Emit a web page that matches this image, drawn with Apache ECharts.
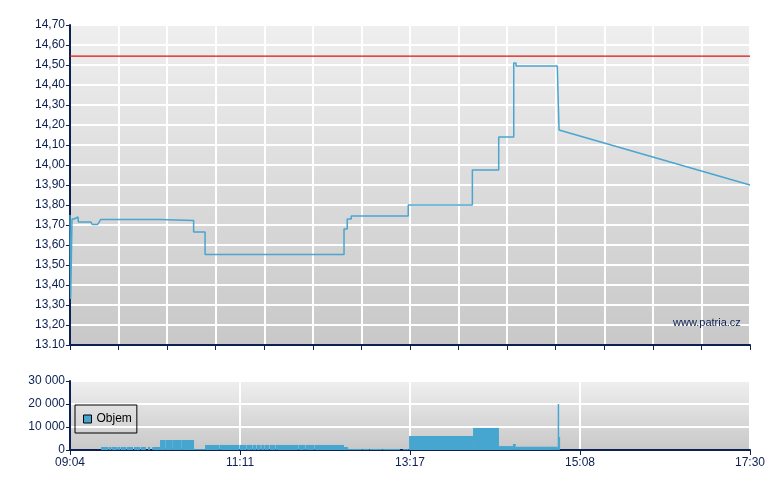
<!DOCTYPE html>
<html>
<head>
<meta charset="utf-8">
<script src="https://cdn.jsdelivr.net/npm/echarts@6/dist/echarts.min.js"></script>
<style>
html,body{margin:0;padding:0;background:#fff;}
#chart{width:780px;height:490px;}
</style>
</head>
<body>
<div id="chart"></div>
<script>
// x values: minutes after session start (09:04); session spans 506 minutes on the axis
const sessionLength = 506;
const timeLabels = ['09:04', '11:11', '13:17', '15:08', '17:30'];
const priceLabels = ['13.10', '13,20', '13,30', '13,40', '13,50', '13,60', '13,70', '13,80',
  '13,90', '14,00', '14,10', '14,20', '14,30', '14,40', '14,50', '14,60', '14,70'];
const volumeLabels = ['0', '10 000', '20 000', '30 000'];
const previousClose = 14.544;

// price path [minute, price]
const priceTimes = [0, 0.5, 1.5, 3.0, 3.0, 6.0, 6.2, 15.6, 16.5, 20.6, 22.8, 67.0, 67.0, 92.0, 92.0, 100.5, 100.5,
  203.9, 203.9, 206.3, 206.3, 209.3, 209.3, 251.7, 251.7, 299.4, 299.4, 319.0, 319.0, 330.2, 330.2,
  331.9, 331.9, 362.6, 363.9, 506];
const priceValues = [13.75, 13.33, 13.73, 13.73, 13.74, 13.74, 13.715, 13.715, 13.703, 13.703, 13.727, 13.727, 13.723, 13.723, 13.665, 13.665, 13.553,
  13.553, 13.68, 13.68, 13.73, 13.73, 13.745, 13.745, 13.80, 13.80, 13.975, 13.975, 14.14, 14.14, 14.51,
  14.51, 14.495, 14.495, 14.175, 13.90];

// volume blocks: start minute, end minute, volume
const volStart = [23.1, 28.8, 31.0, 35.5, 37.7, 42.4, 47.6, 52.6, 58.0, 61.2, 67.0, 70.9, 76.6, 82.8, 92.3,
  100.5, 111.2, 126.1, 131.7, 135.8, 138.8, 142.3, 145.1, 148.7, 152.9, 170.4, 175.2, 182.3,
  203.9, 206.9, 217.6, 222.9, 232.5, 247.8,
  252.3, 299.9, 319.2, 329.6, 331.7, 362.9, 363.9];
const volEnd = [28.5, 30.7, 35.2, 37.4, 41.9, 46.9, 52.1, 56.5, 59.7, 67.0, 70.8, 76.5, 82.7, 92.3, 100.5,
  110.9, 125.8, 131.4, 135.5, 138.4, 141.9, 144.8, 148.3, 152.6, 170.1, 174.9, 182.0, 203.9,
  206.9, 217.3, 222.5, 232.2, 245.6, 252.0,
  299.9, 319.2, 329.6, 331.7, 362.9, 364.0, 364.7];
const volValues = [1300, 1300, 1300, 1300, 1300, 1300, 1300, 1300, 1300, 1300, 4350, 4350, 4350, 4350, 400,
  2200, 2200, 2200, 2200, 2200, 2200, 2200, 2200, 2200, 2200, 2200, 2200, 2200,
  1300, 450, 450, 450, 450, 400,
  6100, 9600, 1700, 2600, 1400, 20000, 5700];

const navy = '#0c2052';
const font = 'Liberation Sans, Arial, sans-serif';
const lineBlue = '#4aa5cf';
const volBlue = '#47a6d0';

const pricePoints = priceTimes.map((t, i) => [t, priceValues[i]]);
const closePoints = [[0, previousClose], [sessionLength, previousClose]];
const volData = volStart.map((s, i) => [s, volEnd[i], volValues[i]]);

function bg() {
  return {type: 'linear', x: 0, y: 0, x2: 0, y2: 1,
    colorStops: [{offset: 0, color: '#efefef'}, {offset: 1, color: '#c8c8c8'}]};
}

const chart = echarts.init(document.getElementById('chart'), null, {renderer: 'canvas'});
chart.setOption({
  animation: false,
  backgroundColor: '#ffffff',
  textStyle: {fontFamily: font},
  grid: [
    {left: 70, top: 25, width: 680, height: 320, show: true, backgroundColor: bg(), borderWidth: 0},
    {left: 70, top: 381, width: 680, height: 69, show: true, backgroundColor: bg(), borderWidth: 0}
  ],
  legend: {
    data: [{name: 'Objem', icon: 'rect'}],
    left: 75, top: 405,
    orient: 'vertical',
    itemWidth: 8, itemHeight: 8, itemGap: 5,
    padding: [8, 5, 8, 8],
    borderColor: '#000', borderWidth: 1,
    itemStyle: {borderColor: '#000', borderWidth: 1},
    textStyle: {color: '#000', fontSize: 12, fontFamily: font}
  },
  graphic: [{
    type: 'text', left: 673, top: 317, z: 100,
    style: {text: 'www.patria.cz', fill: navy, font: '11px ' + font}
  }],
  xAxis: [
    {type: 'value', gridIndex: 0, min: 0, max: sessionLength, interval: sessionLength / 14,
      axisLine: {show: true, lineStyle: {color: navy, width: 2}},
      axisTick: {show: true, length: 5, lineStyle: {color: navy, width: 1}},
      axisLabel: {show: false},
      splitLine: {show: true, lineStyle: {color: '#ffffff', width: 2}}},
    {type: 'value', gridIndex: 1, min: 0, max: sessionLength, interval: sessionLength / 4,
      axisLine: {show: true, lineStyle: {color: navy, width: 2}},
      axisTick: {show: true, length: 5, lineStyle: {color: navy, width: 1}},
      axisLabel: {show: true, color: navy, fontSize: 12, fontFamily: font, margin: 7,
        formatter: v => timeLabels[Math.round(v / (sessionLength / 4))]},
      splitLine: {show: true, lineStyle: {color: '#ffffff', width: 2}}}
  ],
  yAxis: [
    {type: 'value', gridIndex: 0, min: 13.1, max: 14.7, interval: 0.1,
      axisLine: {show: true, lineStyle: {color: navy, width: 2}},
      axisTick: {show: true, length: 4, lineStyle: {color: navy, width: 1}},
      axisLabel: {color: navy, fontSize: 12, fontFamily: font, margin: 5,
        formatter: v => priceLabels[Math.round((v - 13.1) / 0.1)]},
      splitLine: {show: true, lineStyle: {color: '#ffffff', width: 2}}},
    {type: 'value', gridIndex: 1, min: 0, max: 30000, interval: 10000,
      axisLine: {show: true, lineStyle: {color: navy, width: 2}},
      axisTick: {show: true, length: 4, lineStyle: {color: navy, width: 1}},
      axisLabel: {color: navy, fontSize: 12, fontFamily: font, margin: 5,
        formatter: v => volumeLabels[Math.round(v / 10000)]},
      splitLine: {show: true, lineStyle: {color: '#ffffff', width: 2}}}
  ],
  series: [
    {type: 'line', name: 'Předchozí', xAxisIndex: 0, yAxisIndex: 0, data: closePoints,
      showSymbol: false, symbol: 'none', z: 4,
      lineStyle: {color: '#e01010', width: 1.2}},
    {type: 'line', name: 'Cena', xAxisIndex: 0, yAxisIndex: 0, data: pricePoints,
      showSymbol: false, symbol: 'none', z: 5,
      lineStyle: {color: lineBlue, width: 1.5}},
    {type: 'custom', name: 'Objem', xAxisIndex: 1, yAxisIndex: 1, data: volData,
      itemStyle: {color: volBlue},
      encode: {x: [0, 1], y: 2},
      renderItem: function (params, api) {
        const p0 = api.coord([api.value(0), api.value(2)]);
        const p1 = api.coord([api.value(1), 0]);
        return {type: 'rect',
          shape: {x: p0[0], y: p0[1], width: Math.max(p1[0] - p0[0], 1), height: p1[1] - p0[1]},
          style: {fill: volBlue}};
      }}
  ]
});
</script>
</body>
</html>
